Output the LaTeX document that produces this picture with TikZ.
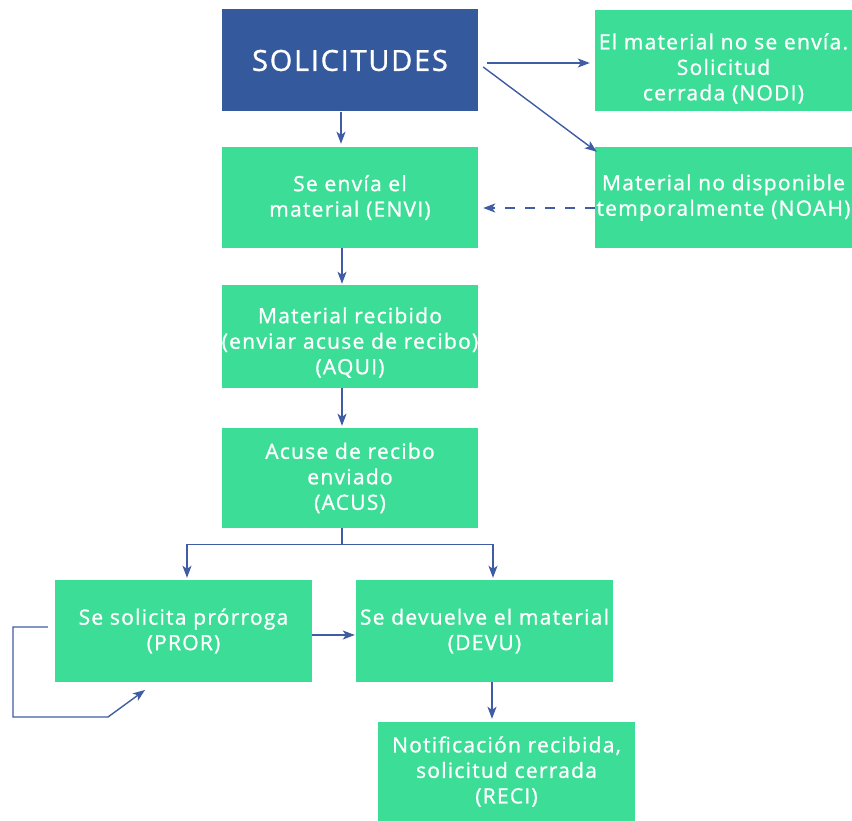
\documentclass[tikz,border=0pt]{standalone}
\usepackage{fontspec}
\setmainfont{Open Sans}
\newfontfamily\cajafont[LetterSpace=6,FakeBold=1.1]{Open Sans}
\usetikzlibrary{arrows.meta}
\definecolor{boxgreen}{HTML}{3CDD97}
\definecolor{boxblue}{HTML}{34599C}
\definecolor{linkblue}{HTML}{3F5CA4}

\begin{document}
\begin{tikzpicture}[x=1pt,y=-1pt,
    estado/.style={fill=boxgreen,text=white,align=center,inner sep=0pt,
      minimum width=257pt,minimum height=101pt,
      font=\cajafont\fontsize{21}{25.5}\selectfont},
    arr/.style={draw=linkblue,line width=1.4pt,-{Stealth[length=12pt,width=9pt,inset=3pt]}},
    lin/.style={draw=linkblue,line width=1.4pt}]
  \useasboundingbox (0,0) rectangle (852,821);
  % cajas
  \node[fill=boxblue,text=white,inner sep=0pt,minimum width=256pt,minimum height=102pt,
    font=\cajafont\fontsize{29}{32}\selectfont] (sol) at (350,60.5) {SOLICITUDES};
  \node[estado] (nodi) at (723.5,60.5)
    {\rule{0pt}{32pt}El material no se envía.\\Solicitud\\cerrada (NODI)};
  \node[estado,minimum width=256pt] (envi) at (350,197.5)
    {Se envía el\\material (ENVI)};
  \node[estado] (noah) at (723.5,197.5)
    {Material no disponible\\temporalmente (NOAH)};
  \node[estado,minimum width=256pt,minimum height=103pt] (aqui) at (350,336.5)
    {\rule{0pt}{28pt}Material recibido\\(enviar acuse de recibo)\\(AQUI)};
  \node[estado,minimum width=256pt,minimum height=100pt] (acus) at (350,478)
    {Acuse de recibo\\enviado\\(ACUS)};
  \node[estado,minimum height=102pt] (pror) at (183.5,631)
    {Se solicita prórroga\\(PROR)};
  \node[estado,minimum height=102pt] (devu) at (484.5,631)
    {Se devuelve el material\\(DEVU)};
  \node[estado,minimum height=99pt] (reci) at (506.5,771.5)
    {Notificación recibida,\\solicitud cerrada\\(RECI)};
  % flechas
  \draw[arr,shorten <=9pt,shorten >=5pt] ([yshift=-2.5pt]sol.east) -- ([yshift=-2.5pt]nodi.west);
  \draw[arr] ([xshift=5pt,yshift=-6.5pt]sol.east) -- ([xshift=2pt,yshift=-5pt]noah.north west);
  \draw[arr,shorten >=3pt] ([xshift=-9pt]sol.south) -- ([xshift=-9pt]envi.north);
  \draw[arr,dash pattern=on 10pt off 10pt,shorten >=5pt] ([yshift=-10.5pt]noah.west) -- ([yshift=-10.5pt]envi.east);
  \draw[arr,shorten >=1pt] ([xshift=-8pt]envi.south) -- ([xshift=-8pt]aqui.north);
  \draw[arr,shorten >=2pt] ([xshift=-8pt]aqui.south) -- ([xshift=-8pt]acus.north);
  \coordinate (split) at ([xshift=-8pt,yshift=-16pt]acus.south);
  \draw[lin] ([xshift=-8pt]acus.south) -- (split);
  \draw[arr,shorten >=2pt] (split) -| ([xshift=3.5pt]pror.north);
  \draw[arr,shorten >=2pt] (split) -| ([xshift=8.5pt]devu.north);
  \draw[arr,shorten >=1pt] ([yshift=-4pt]pror.east) -- ([yshift=-4pt]devu.west);
  \coordinate (giro) at (108,717);
  \draw[arr] ([xshift=-7pt,yshift=4pt]pror.west) -- (13,627) -- (13,717) -- (giro) -- (145,690);
  \draw[arr,shorten >=3pt] ([xshift=7.5pt]devu.south) -- ([xshift=-14.5pt]reci.north);
\end{tikzpicture}
\end{document}
